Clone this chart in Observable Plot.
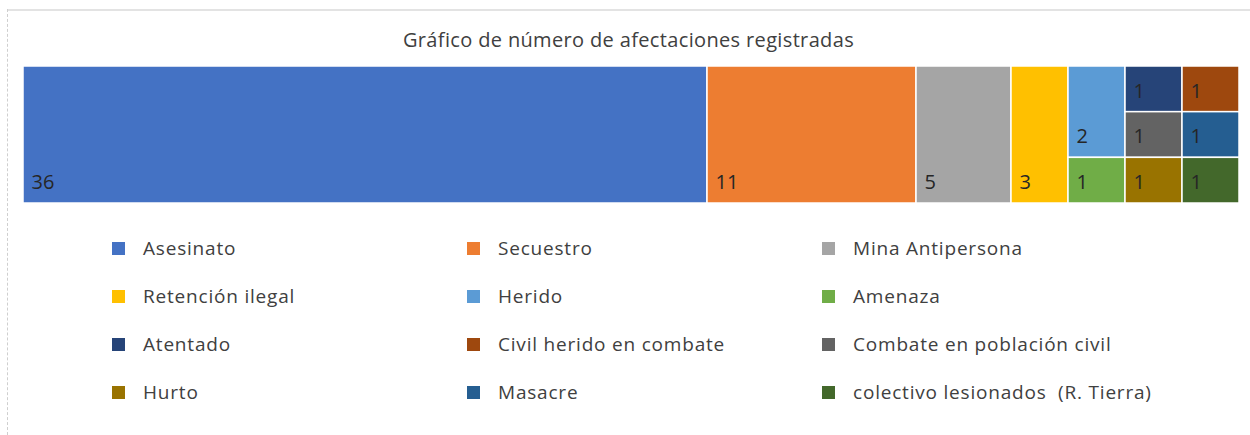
<!DOCTYPE html>
<html>
<head>
<meta charset="utf-8">
<script src="https://cdn.jsdelivr.net/npm/d3@7"></script>
<script src="https://cdn.jsdelivr.net/npm/@observablehq/plot@0.6"></script>
<style>
  html, body { margin: 0; padding: 0; background: #fff; }
  #wrap { position: relative; width: 1250px; height: 435px; overflow: hidden; font-family: "Open Sans", sans-serif; }
  #frameTop { position: absolute; left: 7px; top: 9px; width: 1243px; height: 0; border-top: 2px solid #e3e3e3; }
  #frameLeft { position: absolute; left: 7px; top: 9px; width: 0; height: 426px; border-left: 1px dashed #cfcfcf; }
  #title { position: absolute; left: 7px; width: 1243px; top: 26px; text-align: center; font-size: 20px; letter-spacing: 0.35px; color: #404040; }
  #chart { position: absolute; left: 0; top: 65px; }
  #legend { position: absolute; left: 112px; top: 224px; display: grid; grid-template-columns: 355px 355px 355px; grid-auto-rows: 48px; }
  .item { display: flex; align-items: center; font-size: 19px; letter-spacing: 0.8px; color: #404040; white-space: pre; }
  .sw { width: 13px; height: 13px; margin-right: 18px; flex: none; }
</style>
</head>
<body>
<div id="wrap">
  <div id="frameTop"></div>
  <div id="frameLeft"></div>
  <div id="title">Gráfico de número de afectaciones registradas</div>
  <div id="chart"></div>
  <div id="legend"></div>
</div>
<script>
// ---- data ----
const categories = [
  "Asesinato", "Secuestro", "Mina Antipersona",
  "Retención ilegal", "Herido", "Amenaza",
  "Atentado", "Civil herido en combate", "Combate en población civil",
  "Hurto", "Masacre", "colectivo lesionados  (R. Tierra)"
];
const values = [36, 11, 5, 3, 2, 1, 1, 1, 1, 1, 1, 1];
const colors = [
  "#4472C4", "#ED7D31", "#A5A5A5",
  "#FFC000", "#5B9BD5", "#70AD47",
  "#264478", "#9E480E", "#636363",
  "#997300", "#255E91", "#43682B"
];
// grouping of the treemap tiles (category indices), as arranged by the source chart
const tileGroups = {dir: "x", children: [0, 1, 2, 3,
  {dir: "x", children: [
    {dir: "y", children: [4, 5]},
    {dir: "y", children: [
      {dir: "x", children: [6, 7]},
      {dir: "x", children: [8, 10]},
      {dir: "x", children: [9, 11]}
    ]}
  ]}
]};

// ---- layout ----
const W = 1216, H = 137;
function toNode(g) {
  if (typeof g === "number") return {name: categories[g], value: values[g], color: colors[g]};
  return {dir: g.dir, children: g.children.map(toNode)};
}
const root = d3.hierarchy(toNode(tileGroups)).sum(d => d.value || 0);
d3.treemap()
  .size([W, H])
  .tile((node, x0, y0, x1, y1) =>
    (node.data.dir === "y" ? d3.treemapSlice : d3.treemapDice)(node, x0, y0, x1, y1))(root);
const leaves = root.leaves().map(d => ({...d.data, x0: d.x0, x1: d.x1, y0: d.y0, y1: d.y1}));

const plot = Plot.plot({
  width: 1250,
  height: H + 2,
  marginLeft: 23, marginRight: 11, marginTop: 1, marginBottom: 1,
  x: {domain: [0, W], axis: null},
  y: {domain: [0, H], range: [1, H + 1], axis: null},
  style: {fontFamily: "'Open Sans', sans-serif", background: "transparent"},
  marks: [
    Plot.rect(leaves, {x1: "x0", x2: "x1", y1: "y0", y2: "y1", fill: d => d.color, stroke: "white", strokeWidth: 1.5}),
    Plot.text(leaves, {x: "x0", y: "y1", text: d => String(d.value), dx: 8, dy: -21,
      textAnchor: "start", lineAnchor: "middle", fontSize: 20, fill: "#262626"})
  ]
});
document.getElementById("chart").appendChild(plot);

// ---- legend ----
const legend = document.getElementById("legend");
categories.forEach((c, i) => {
  const it = document.createElement("div");
  it.className = "item";
  const sw = document.createElement("span");
  sw.className = "sw";
  sw.style.background = colors[i];
  it.appendChild(sw);
  it.appendChild(document.createTextNode(c));
  legend.appendChild(it);
});
</script>
</body>
</html>
